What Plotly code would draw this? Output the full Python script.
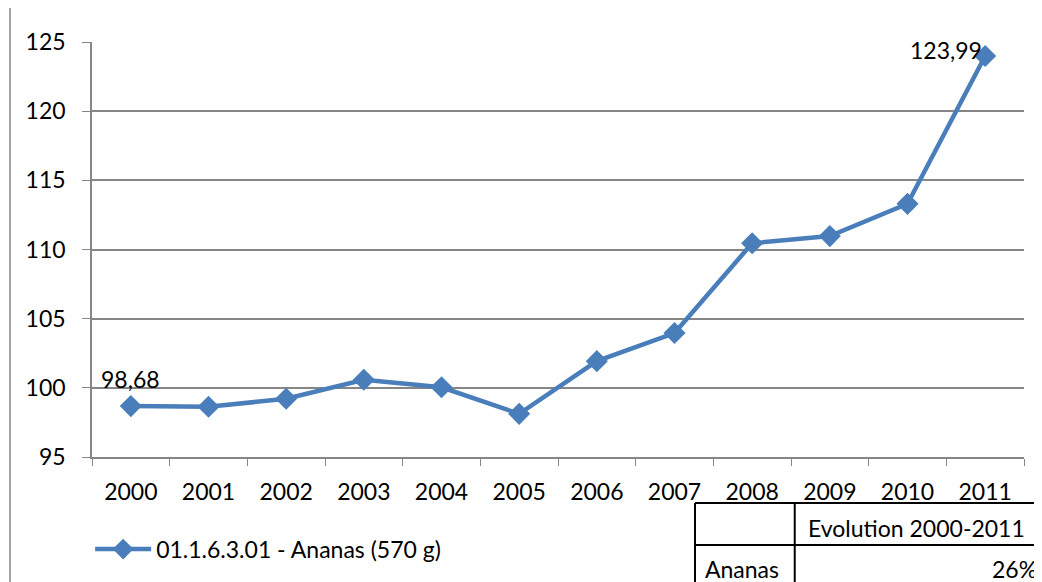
import plotly.graph_objects as go

years = ["2000", "2001", "2002", "2003", "2004", "2005", "2006", "2007", "2008", "2009", "2010", "2011"]
values = [98.68, 98.63, 99.21, 100.58, 100.04, 98.12, 101.93, 103.96, 110.45, 110.97, 113.30, 123.99]
series_name = "01.1.6.3.01 - Ananas (570 g)"
y_ticks = [95, 100, 105, 110, 115, 120, 125]
table_header = "Evolution 2000-2011"
table_row = "Ananas"
table_value = "26%"

FONT = "Lato"
BLUE = "#4A7EBB"
GREY = "#868686"
FS = 23

fig = go.Figure()
fig.add_trace(go.Scatter(
    x=years, y=values, mode="lines+markers", name=series_name,
    line=dict(color=BLUE, width=4.5),
    marker=dict(symbol="diamond", size=17, color=BLUE),
))

def fmt(v):
    return f"{v:.2f}".replace(".", ",")

first_i, last_i = 0, len(values) - 1
fig.add_annotation(x=first_i, y=values[first_i], text=fmt(values[first_i]), showarrow=False,
                   xanchor="center", yanchor="middle", yshift=27,
                   font=dict(family=FONT, size=FS, color="black"))
fig.add_annotation(x=last_i, y=values[last_i], text=fmt(values[last_i]), showarrow=False,
                   xanchor="right", yanchor="middle", xshift=-1, yshift=6,
                   font=dict(family=FONT, size=FS, color="black"))

# chart left border
fig.add_shape(type="line", xref="paper", yref="paper", x0=-0.088, x1=-0.088, y0=-0.35, y1=1.15,
              line=dict(color=GREY, width=1.5))

# table lines
tx0, tx1, txm = 0.647, 1.05, 0.754
ty0, tym, ty1 = -0.111, -0.212, -0.35
for (a, b, c, d) in [(tx0, ty0, tx1, ty0), (tx0, tym, tx1, tym), (tx0, ty0, tx0, ty1), (txm, ty0, txm, ty1)]:
    fig.add_shape(type="line", xref="paper", yref="paper", x0=a, y0=b, x1=c, y1=d,
                  line=dict(color="black", width=2))
fig.add_annotation(xref="paper", yref="paper", x=0.885, y=-0.171,
                   text=table_header, showarrow=False, xanchor="center", yanchor="middle",
                   font=dict(family=FONT, size=FS, color="black"))
fig.add_annotation(xref="paper", yref="paper", x=0.656, y=-0.27,
                   text=table_row, showarrow=False, xanchor="left", yanchor="middle",
                   font=dict(family=FONT, size=FS, color="black"))
fig.add_annotation(xref="paper", yref="paper", x=1.016, y=-0.27,
                   text=table_value, showarrow=False, xanchor="right", yanchor="middle",
                   font=dict(family=FONT, size=FS, color="black"))

# page body adds an 8px offset; compensate in margins
fig.update_layout(
    width=1042, height=582,
    margin=dict(l=84, r=26, t=34, b=133),
    paper_bgcolor="white", plot_bgcolor="white",
    font=dict(family=FONT, size=FS, color="black"),
    showlegend=True,
    legend=dict(orientation="h", x=-0.002, y=-0.222, xanchor="left", yanchor="middle",
                itemwidth=56, font=dict(family=FONT, size=FS, color="black")),
)
fig.update_xaxes(
    type="category", showgrid=False, showline=True, linecolor=GREY, linewidth=1.5,
    ticks="outside", ticklen=7, tickcolor=GREY, tickson="boundaries",
    tickfont=dict(family=FONT, size=FS), range=[-0.5, 11.5], ticklabelstandoff=14,
)
fig.update_yaxes(
    range=[95, 125], tickvals=y_ticks, showgrid=True, gridcolor=GREY, gridwidth=1.5,
    showline=True, linecolor=GREY, linewidth=1.5, ticks="outside", ticklen=8,
    tickcolor=GREY, tickfont=dict(family=FONT, size=FS), zeroline=False, ticklabelstandoff=12,
)

fig.write_html("out.html")
